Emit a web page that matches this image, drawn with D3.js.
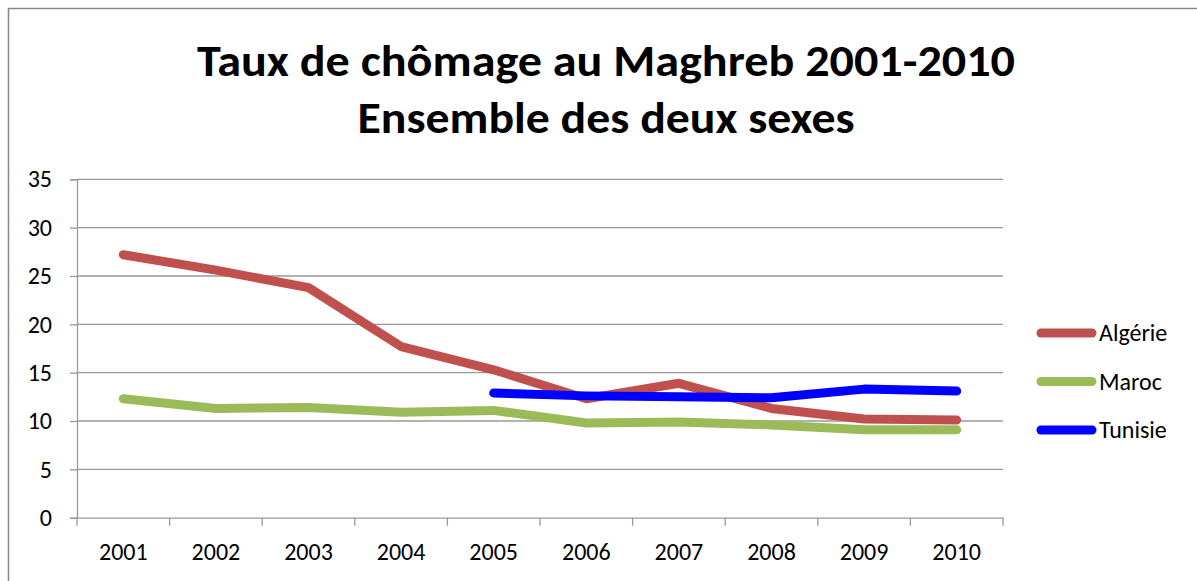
<!DOCTYPE html>
<html>
<head>
<meta charset="utf-8">
<script src="https://cdn.jsdelivr.net/npm/d3@7"></script>
<style>
  body { margin: 0; background: #fff; }
  text { font-family: Carlito, "Open Sans", "Liberation Sans", sans-serif; }
</style>
</head>
<body>
<svg id="chart" width="1197" height="581"></svg>
<script>
const years = ['2001', '2002', '2003', '2004', '2005', '2006', '2007', '2008', '2009', '2010']
const algerie = [27.2, 25.6, 23.8, 17.7, 15.3, 12.3, 13.9, 11.3, 10.2, 10.1]
const maroc = [12.3, 11.3, 11.4, 10.9, 11.1, 9.8, 9.9, 9.6, 9.1, 9.1]
const tunisie = [null, null, null, null, 12.9, 12.6, 12.5, 12.4, 13.3, 13.1]
const yTicks = [0, 5, 10, 15, 20, 25, 30, 35]

const seriesNames = ['Algérie', 'Maroc', 'Tunisie']
const seriesColors = ['#c0504d', '#9bbb59', '#0000ff']

const series = [algerie, maroc, tunisie].map((vals, i) => ({
  name: seriesNames[i],
  color: seriesColors[i],
  values: vals.map((v, j) => ({ year: years[j], value: v }))
}))

const svg = d3.select('#chart')
const margin = { left: 77, right: 194, top: 179.3, bottom: 63.3 }
const W = 1197, H = 581

// outer frame (cut off at right / bottom like the original)
svg.append('rect')
  .attr('x', 8.5).attr('y', 8.5)
  .attr('width', 1300).attr('height', 700)
  .attr('fill', 'none').attr('stroke', '#888').attr('stroke-width', 1.5)

const x = d3.scaleBand().domain(years).range([margin.left, W - margin.right]).padding(0)
const y = d3.scaleLinear().domain([0, 35]).range([H - margin.bottom, margin.top])

// title
const title = svg.append('g').attr('font-weight', 'bold').attr('fill', '#000')
title.append('text')
  .attr('x', 606).attr('y', 76)
  .attr('text-anchor', 'middle')
  .attr('font-size', 45)
  .attr('textLength', 818).attr('lengthAdjust', 'spacingAndGlyphs')
  .text('Taux de chômage au Maghreb 2001-2010')
title.append('text')
  .attr('x', 606).attr('y', 133)
  .attr('text-anchor', 'middle')
  .attr('font-size', 45)
  .attr('textLength', 497).attr('lengthAdjust', 'spacingAndGlyphs')
  .text('Ensemble des deux sexes')

// gridlines
svg.append('g')
  .selectAll('line')
  .data(yTicks.filter(d => d > 0))
  .join('line')
  .attr('x1', margin.left).attr('x2', W - margin.right)
  .attr('y1', d => y(d)).attr('y2', d => y(d))
  .attr('stroke', '#999').attr('stroke-width', 1.3)

// y axis
const yAxis = svg.append('g')
  .attr('transform', `translate(${margin.left},0)`)
  .call(d3.axisLeft(y).tickValues(yTicks).tickSize(7).tickPadding(18))
yAxis.select('.domain').attr('stroke', '#999').attr('stroke-width', 1.3)
yAxis.selectAll('.tick line').attr('stroke', '#999').attr('stroke-width', 1.3)
yAxis.selectAll('.tick text')
  .attr('font-size', 24).attr('fill', '#000')

// x axis
const xAxis = svg.append('g')
  .attr('transform', `translate(0,${y(0)})`)
  .call(d3.axisBottom(x).tickSize(0).tickPadding(25))
xAxis.select('.domain').attr('stroke', '#999').attr('stroke-width', 1.3)
xAxis.selectAll('.tick text')
  .attr('font-size', 24).attr('fill', '#000')

// category boundary ticks
const edges = years.map(d => x(d)).concat([x(years[years.length - 1]) + x.bandwidth()])
svg.append('g')
  .selectAll('line')
  .data(edges)
  .join('line')
  .attr('x1', d => d).attr('x2', d => d)
  .attr('y1', y(0)).attr('y2', y(0) + 8)
  .attr('stroke', '#999').attr('stroke-width', 1.3)

// lines
const line = d3.line()
  .defined(d => d.value !== null)
  .x(d => x(d.year) + x.bandwidth() / 2)
  .y(d => y(d.value))

svg.append('g')
  .selectAll('path')
  .data(series)
  .join('path')
  .attr('d', d => line(d.values))
  .attr('fill', 'none')
  .attr('stroke', d => d.color)
  .attr('stroke-width', 9)
  .attr('stroke-linecap', 'round')
  .attr('stroke-linejoin', 'round')

// legend
const legend = svg.append('g')
  .selectAll('g')
  .data(series)
  .join('g')
  .attr('transform', (d, i) => `translate(1041,${333 + i * 48.5})`)
legend.append('line')
  .attr('x1', 0).attr('x2', 51)
  .attr('stroke', d => d.color)
  .attr('stroke-width', 9)
  .attr('stroke-linecap', 'round')
legend.append('text')
  .attr('x', 58).attr('y', 8)
  .attr('font-size', 24)
  .attr('fill', '#000')
  .text(d => d.name)
</script>
</body>
</html>
